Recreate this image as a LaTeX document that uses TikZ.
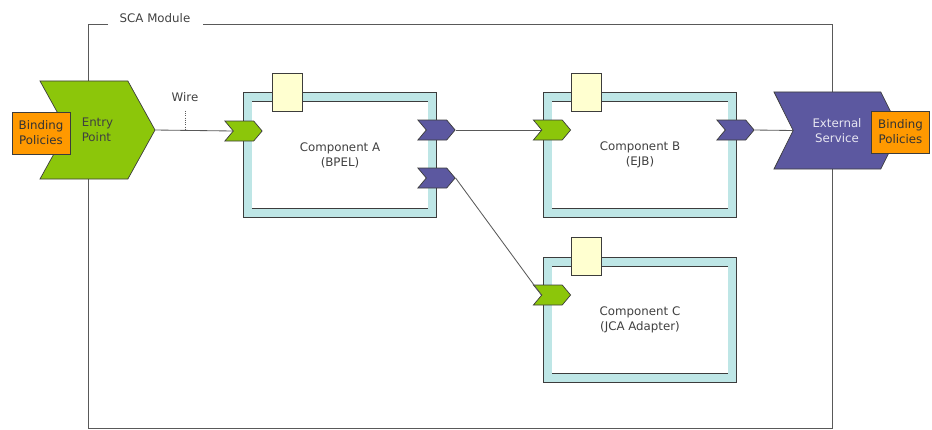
\documentclass[tikz,border=0pt]{standalone}
\usepackage{fontspec}
\setmainfont{DejaVu Sans}
\usetikzlibrary{shapes.symbols}

\definecolor{portgreen}{RGB}{140,198,10}
\definecolor{portblue}{RGB}{92,88,160}
\definecolor{bindorange}{RGB}{255,153,0}
\definecolor{bandcyan}{RGB}{190,230,230}
\definecolor{tabyellow}{RGB}{255,255,208}
\definecolor{edgegray}{RGB}{60,60,60}
\definecolor{txtgray}{RGB}{64,64,64}

\begin{document}
\begin{tikzpicture}[x=0.025cm, y=-0.025cm,
  every node/.style={font=\fontsize{8.4}{10.7}\selectfont, text=txtgray},
  comp/.style={rectangle, draw=edgegray, line width=0.5pt, double=bandcyan,
    double distance=0.2cm, fill=white, minimum width=4.61cm,
    minimum height=2.9cm, align=center, inner sep=0pt},
  tab/.style={rectangle, draw=edgegray, line width=0.5pt, fill=tabyellow,
    minimum width=0.75cm, minimum height=0.95cm, inner sep=0pt},
  port/.style={signal, signal from=west, signal to=east,
    signal pointer angle=100, draw=edgegray, line width=0.5pt,
    minimum width=0.93cm, minimum height=0.5cm, inner sep=0pt},
  inport/.style={port, fill=portgreen},
  outport/.style={port, fill=portblue},
  bigport/.style={signal, signal from=west, signal to=east, draw=edgegray,
    line width=0.5pt, align=center, inner sep=0pt},
  binding/.style={rectangle, draw=edgegray, line width=0.6pt, fill=bindorange,
    minimum width=1.45cm, minimum height=1.05cm, align=center,
    inner sep=0pt, text=black!80},
  wire/.style={draw=gray!70!black, line width=0.6pt}]
  \useasboundingbox (0,0) rectangle (932,429);

  \draw[gray!70!black, line width=0.6pt]
    (108,24) -- (88,24) -- (88,428) -- (832,428) -- (832,24) -- (203,24);
  \node (module) at (155,18) {SCA Module};

  \node[comp] (compA) at (340,155) {Component A\\(BPEL)};
  \node[comp] (compB) at (640,155) {Component B\\(EJB)};
  \node[comp] (compC) at (640,320) {Component C\\(JCA Adapter)};

  \node[tab] (tabA) at (287,92) {};
  \node[tab] (tabB) at (586.5,92) {};
  \node[tab] (tabC) at (586.5,256.5) {};

  \node[inport] (inA) at (243.5,131) {};
  \node[outport] (outA1) at (436.5,130) {};
  \node[outport] (outA2) at (436.5,178) {};
  \node[inport] (inB) at (552,130) {};
  \node[outport] (outB) at (735.5,130) {};
  \node[inport] (inC) at (552,295) {};

  \node[bigport, fill=portgreen, signal pointer angle=122, align=left,
    minimum width=2.875cm, minimum height=2.45cm] (entry) at (97.5,130)
    {Entry\\Point};
  \node[bigport, fill=portblue, signal pointer angle=127,
    minimum width=3.15cm, minimum height=1.925cm, text=white!85!portblue]
    (ext) at (837,130.5) {External\\Service};

  \node[binding] (bindL) at (41,133) {Binding\\Policies};
  \node[binding] (bindR) at (900.5,132) {Binding\\Policies};

  \draw[wire] (entry.east) -- (inA.west);
  \draw[wire] (outA1.east) -- (inB.west);
  \draw[wire] (outA2.east) -- (inC.west);
  \draw[wire] (outB.east) -- (ext.west);

  \node (wirelbl) at (185,97) {Wire};
  \draw[densely dotted, gray!70!black, line width=0.6pt, shorten <=3pt]
    (wirelbl.south) -- (wirelbl.south |- entry.east);
\end{tikzpicture}
\end{document}
